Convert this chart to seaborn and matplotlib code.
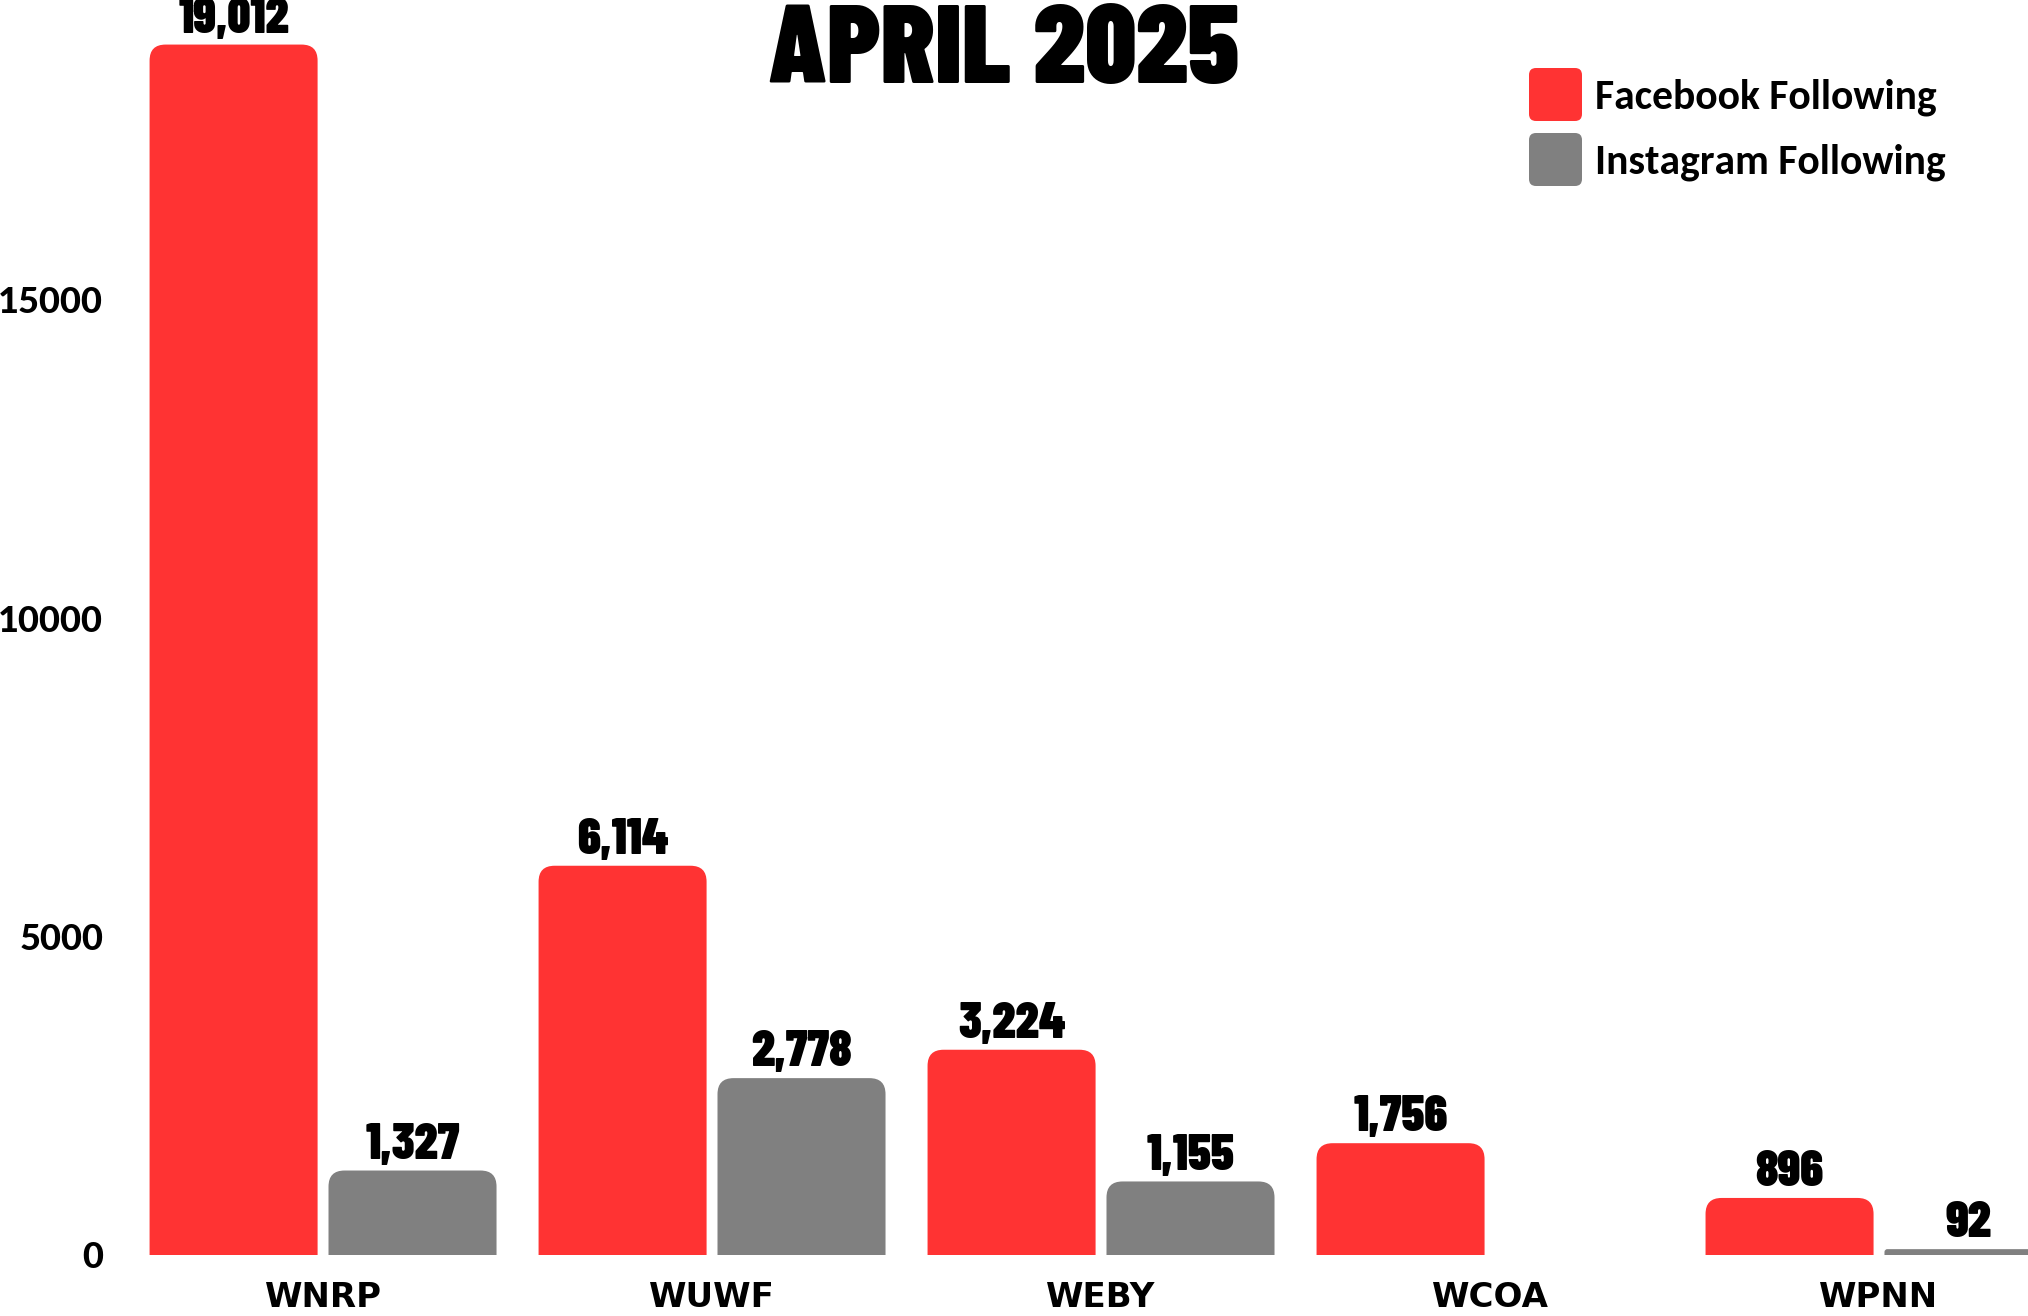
import pandas as pd
import seaborn as sns
import matplotlib.pyplot as plt
from matplotlib import font_manager as fm
from matplotlib.patches import FancyBboxPatch, Patch
from matplotlib.legend_handler import HandlerPatch

## Data
stations = ["WNRP", "WUWF", "WEBY", "WCOA", "WPNN"]
facebook = [19012, 6114, 3224, 1756, 896]
instagram = [1327, 2778, 1155, 0, 92]
series = ["Facebook Following", "Instagram Following"]
colors = ["#FF3333", "#808080"]
y_ticks = [0, 5000, 10000, 15000]

df = pd.DataFrame({
    "station": stations * 2,
    "followers": facebook + instagram,
    "platform": [series[0]] * len(stations) + [series[1]] * len(stations),
})

sns.set_style("white")
plt.rcParams["text.color"] = "black"
plt.rcParams["xtick.color"] = "black"
plt.rcParams["ytick.color"] = "black"


# first (family, weight) that is installed, else the fallback
def pick(cands, fallback=("DejaVu Sans", 700)):
    for name, weight in cands:
        for f in fm.fontManager.ttflist:
            w = f.weight if isinstance(f.weight, int) else fm.weight_dict.get(f.weight, 400)
            if f.name == name and abs(w - weight) <= 50:
                return name, weight
    return fallback


# heavy condensed face for title and value labels; cap height / em differs per face
head_name, head_w = pick([("Barlow Condensed", 900), ("Anton", 400)], ("Anton", 400))
cap_ratio = 0.70 if head_name == "Barlow Condensed" else 0.82
head = [head_name, "DejaVu Sans"]


def pt_for_cap(cap_px):
    return cap_px / cap_ratio * 72 / 100


ytick_name, ytick_w = pick([("Lato", 900), ("Lato Black", 900), ("Lato", 800),
                            ("Lato Heavy", 800), ("Lato", 700)])
leg_name, leg_w = pick([("Carlito", 700), ("Open Sans", 700), ("Lato", 700)])
leg_size = {"Carlito": 30, "Open Sans": 28}.get(leg_name, 30)

W, H = 2028, 1316
fig = plt.figure(figsize=(W / 100, H / 100), dpi=100)
left_px, bottom_px = 120, 61
ax = fig.add_axes([left_px / W, bottom_px / H, 1 - left_px / W, 1 - bottom_px / H])

sns.barplot(data=df, x="station", y="followers", hue="platform", palette=colors,
            width=0.92, gap=0.061, saturation=1, legend=False, ax=ax)

# axis limits so the groups land where they are in the reference
xmin, xmax = -0.522, 4.383
ymax = 19712
ax.set_xlim(xmin, xmax)
ax.set_ylim(0, ymax)

# rounded tops for the bars
ax_w_px = W - left_px
ax_h_px = H - bottom_px
xu = (xmax - xmin) / ax_w_px
yu = ymax / ax_h_px
for cont in ax.containers:
    for bar in cont:
        h = bar.get_height()
        if h <= 0:
            bar.set_visible(False)
            continue
        h_px = h / yu
        r_px = min(16, h_px / 2)
        r_y = r_px * yu
        patch = FancyBboxPatch((bar.get_x(), -2 * r_y), bar.get_width(), h + 2 * r_y,
                               boxstyle=f"round,pad=0,rounding_size={r_px * xu}",
                               mutation_aspect=yu / xu,
                               facecolor=bar.get_facecolor(), edgecolor="none")
        ax.add_patch(patch)
        bar.set_visible(False)

# value labels
for cont, vals in zip(ax.containers, [facebook, instagram]):
    labels = [f"{v:,}" if v > 0 else "" for v in vals]
    ax.bar_label(cont, labels=labels, padding=2, fontsize=pt_for_cap(35),
                 family=head, fontweight=head_w, color="black")

sns.despine(left=True, bottom=True)
ax.set_xlabel("")
ax.set_ylabel("")
ax.set_yticks(y_ticks)
ax.tick_params(axis="y", length=0, pad=12, labelsize=26 if ytick_name != "DejaVu Sans" else 22)
ax.tick_params(axis="x", length=0, pad=19, labelsize=24.5)
for lab in ax.get_yticklabels():
    lab.set_family([ytick_name, "DejaVu Sans"])
    lab.set_fontweight(ytick_w)
for lab in ax.get_xticklabels():
    lab.set_family("DejaVu Sans")
    lab.set_fontweight("bold")


def round_handle(legend, orig_handle, xdescent, ydescent, width, height, fontsize):
    return FancyBboxPatch((-xdescent, -ydescent), width, height,
                          boxstyle="round,pad=0,rounding_size=5")


# legend squares ~53 px, rows 65 px apart
fs_px = leg_size * 100 / 72
handles = [Patch(facecolor=c, edgecolor="none") for c in colors]
leg = ax.legend(handles, series, loc="upper left",
                bbox_to_anchor=(1529 / W, 1 - 68 / H), bbox_transform=fig.transFigure,
                frameon=False, borderpad=0, borderaxespad=0,
                fontsize=leg_size, handlelength=53 / fs_px,
                handleheight=(53 / fs_px - 0.245) / 0.65,
                labelspacing=12 / fs_px, handletextpad=13 / fs_px,
                handler_map={Patch: HandlerPatch(patch_func=round_handle)})
for t in leg.get_texts():
    t.set_family([leg_name, "DejaVu Sans"])
    t.set_fontweight(leg_w)

fig.text(1004 / W, 1 - 83 / H, "APRIL 2025", ha="center", va="baseline",
         fontsize=pt_for_cap(78), family=head, fontweight=head_w)

fig.savefig("out.png", dpi=100)
